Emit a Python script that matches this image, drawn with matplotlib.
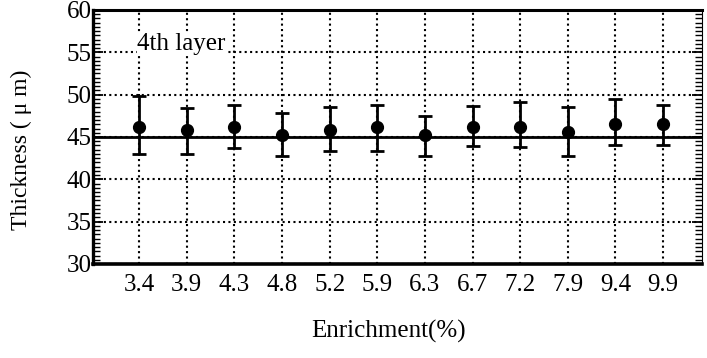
import numpy as np
import matplotlib
matplotlib.use('Agg')
from matplotlib import pyplot as plt
from matplotlib.ticker import MultipleLocator

# enrichment groups and measured 4th-layer thickness (mean with min/max bars)
enrichment = ['3.4', '3.9', '4.3', '4.8', '5.2', '5.9', '6.3', '6.7', '7.2', '7.9', '9.4', '9.9']
thick_mean = [46.2, 45.8, 46.2, 45.2, 45.8, 46.2, 45.2, 46.2, 46.2, 45.6, 46.5, 46.5]
thick_top = [49.8, 48.4, 48.8, 47.8, 48.5, 48.8, 47.5, 48.7, 49.1, 48.5, 49.5, 48.8]
thick_bot = [43.0, 43.0, 43.7, 42.7, 43.4, 43.4, 42.7, 43.9, 43.8, 42.7, 44.1, 44.1]
target = 45.0

plt.rcParams['font.family'] = ['Liberation Serif', 'DejaVu Serif']

x = np.arange(len(enrichment))
mean = np.array(thick_mean)
yerr = [mean - np.array(thick_bot), np.array(thick_top) - mean]

fig = plt.figure(figsize=(7.07, 3.58), dpi=100)
ax = fig.add_axes([0.1315, 0.2626, 0.8615, 0.7095])

ax.axhline(target, color='black', lw=2.0, zorder=2)
ax.errorbar(x, mean, yerr=yerr, fmt='o', color='black', ms=8.5, elinewidth=2.0,
            capsize=5, capthick=2.0, zorder=3)

ax.set_xlim(-0.97, 11.82)
ax.set_ylim(30, 60)
ax.set_xticks(x)
ax.set_xticklabels(enrichment)
ax.yaxis.set_major_locator(MultipleLocator(5))
ax.yaxis.set_minor_locator(MultipleLocator(0.5))

ax.grid(True, which='major', color='black', linestyle=(0, (1, 1.6)), lw=1.5)
ax.tick_params(axis='x', length=0, pad=7, labelsize=18)
ax.tick_params(axis='y', which='major', direction='in', length=7, width=1.3,
               pad=1, labelsize=18, right=True)
ax.tick_params(axis='y', which='minor', direction='in', length=5, width=1.0, right=True)

for side, w in [('left', 2.4), ('bottom', 2.6), ('top', 2.2), ('right', 0.8)]:
    ax.spines[side].set_linewidth(w)

ax.text(-0.04, 55.3, '4th layer', fontsize=18, ha='left', va='baseline',
        bbox=dict(facecolor='white', edgecolor='none', pad=0))

ax.set_xlabel('Enrichment(%)', fontsize=18)
ax.set_ylabel('Thickness ( \u03bc m)', fontsize=17)
ax.xaxis.set_label_coords(0.486, -0.22)
ax.yaxis.set_label_coords(-0.10, 0.45)

fig.savefig('out.png', dpi=100)
